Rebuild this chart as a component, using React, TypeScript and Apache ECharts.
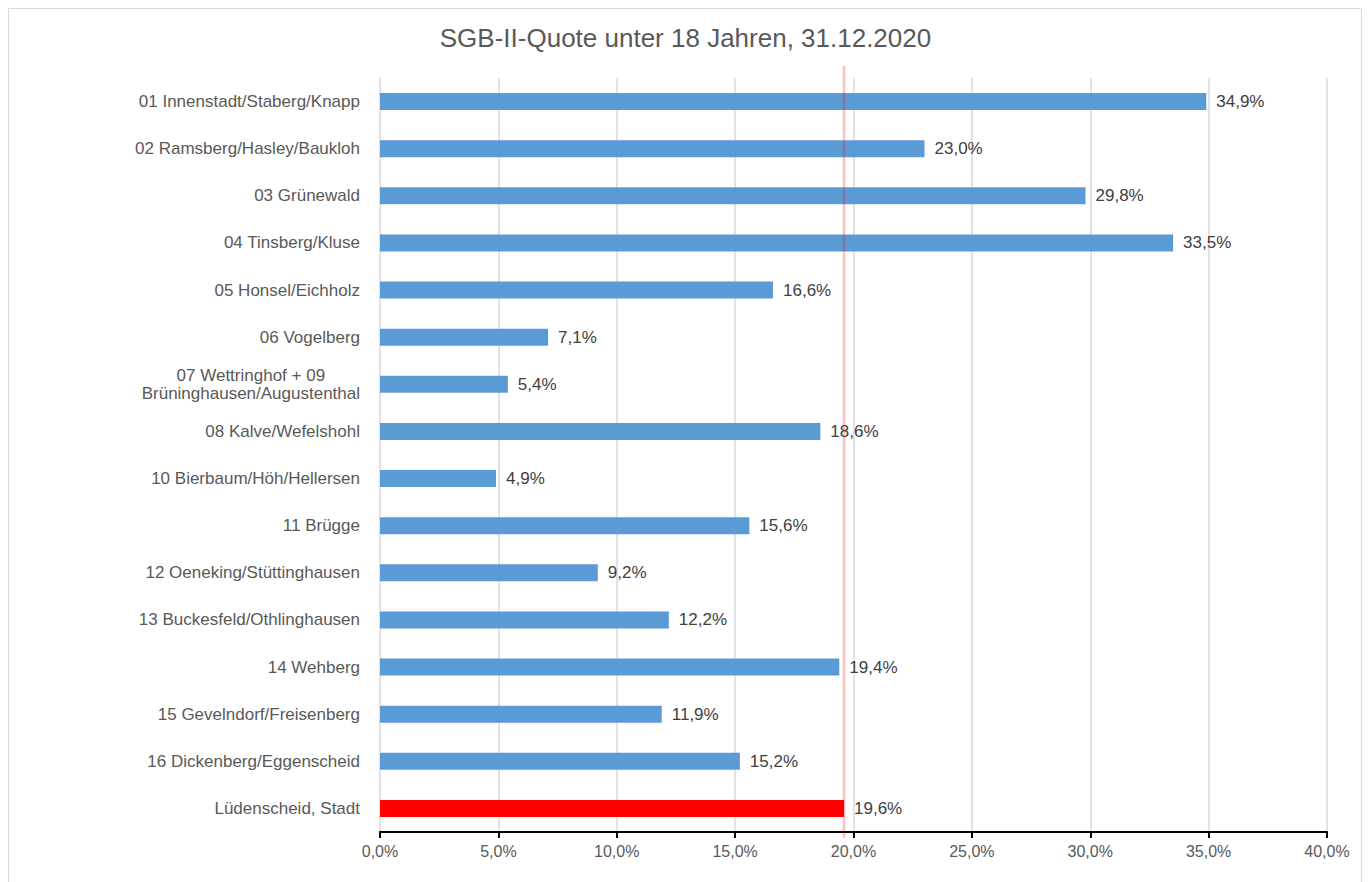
import React, { useEffect, useRef } from "react";
import * as echarts from "echarts";

const titleText = "SGB-II-Quote unter 18 Jahren, 31.12.2020";
const categories = [
  "01 Innenstadt/Staberg/Knapp",
  "02 Ramsberg/Hasley/Baukloh",
  "03 Grünewald",
  "04 Tinsberg/Kluse",
  "05 Honsel/Eichholz",
  "06 Vogelberg",
  "07 Wettringhof + 09\nBrüninghausen/Augustenthal",
  "08 Kalve/Wefelshohl",
  "10 Bierbaum/Höh/Hellersen",
  "11 Brügge",
  "12 Oeneking/Stüttinghausen",
  "13 Buckesfeld/Othlinghausen",
  "14 Wehberg",
  "15 Gevelndorf/Freisenberg",
  "16 Dickenberg/Eggenscheid",
  "Lüdenscheid, Stadt",
];
const values = [34.9, 23.0, 29.8, 33.5, 16.6, 7.1, 5.4, 18.6, 4.9, 15.6, 9.2, 12.2, 19.4, 11.9, 15.2, 19.6];
const cityIndex = 15;
const averageValue = 19.6;
const averageLineY = [0, 1];

const fmt = (v: number) => v.toFixed(1).replace(".", ",") + "%";

export default function App() {
  const ref = useRef<HTMLDivElement>(null);
  useEffect(() => {
    if (!ref.current) return;
    const chart = echarts.init(ref.current, undefined, { renderer: "svg" });
    const font = "'Liberation Sans', Arial, sans-serif";
    chart.setOption({
      animation: false,
      backgroundColor: "#ffffff",
      textStyle: { fontFamily: font },
      title: {
        text: titleText,
        left: "center",
        top: 20,
        textStyle: { fontSize: 26, fontWeight: "normal", color: "#595959", fontFamily: font },
      },
      graphic: [
        {
          type: "rect",
          shape: { x: 8.5, y: 8.5, width: 1353, height: 900 },
          style: { fill: "none", stroke: "#d9d9d9", lineWidth: 1 },
          silent: true,
          z: -1,
        },
      ],
      grid: [
        { left: 380, right: 44, top: 78, bottom: 50, containLabel: false },
        { left: 380, right: 44, top: 66, bottom: 44, containLabel: false },
      ],
      xAxis: [
        {
          type: "value",
          gridIndex: 0,
          min: 0,
          max: 40,
          interval: 5,
          axisLine: { show: true, lineStyle: { color: "#000000", width: 2 } },
          axisTick: { show: true, length: 6, lineStyle: { color: "#000000", width: 2 } },
          axisLabel: {
            formatter: (v: number) => fmt(v),
            color: "#595959",
            fontSize: 16,
            margin: 11,
            fontFamily: font,
          },
          splitLine: { show: true, lineStyle: { color: "#d9d9d9", width: 1.5 } },
        },
        {
          type: "value",
          gridIndex: 1,
          min: 0,
          max: 40,
          show: false,
        },
      ],
      yAxis: [
        {
          type: "category",
          gridIndex: 0,
          data: categories,
          inverse: true,
          axisLine: { show: false },
          axisTick: { show: false },
          axisLabel: {
            color: "#595959",
            fontSize: 17,
            margin: 20,
            fontFamily: font,
            formatter: (v: string) => {
              if (v.indexOf("\n") >= 0) {
                return v
                  .split("\n")
                  .map((s) => "{c|" + s + "}")
                  .join("\n");
              }
              return v;
            },
            rich: {
              c: { align: "center", fontSize: 17, lineHeight: 18, color: "#595959", fontFamily: font },
            },
          },
        },
        {
          type: "value",
          gridIndex: 1,
          min: 0,
          max: 1,
          show: false,
        },
      ],
      series: [
        {
          type: "bar",
          xAxisIndex: 0,
          yAxisIndex: 0,
          barWidth: 17,
          data: values.map((v, i) => ({
            value: v,
            itemStyle: { color: i === cityIndex ? "#ff0000" : "#5b9bd5" },
          })),
          label: {
            show: true,
            position: "right",
            distance: 10,
            formatter: (p: any) => fmt(p.value),
            color: "#404040",
            fontSize: 17,
            fontFamily: font,
          },
          z: 2,
        },
        {
          type: "line",
          xAxisIndex: 1,
          yAxisIndex: 1,
          data: averageLineY.map((y) => [averageValue, y]),
          symbol: "none",
          lineStyle: { color: "rgba(255,0,0,0.25)", width: 2.5 },
          z: 3,
          silent: true,
        },
      ],
    });
    return () => chart.dispose();
  }, []);
  return (
    <div
      ref={ref}
      style={{ position: "absolute", left: 0, top: 0, width: 1371, height: 882 }}
    />
  );
}
